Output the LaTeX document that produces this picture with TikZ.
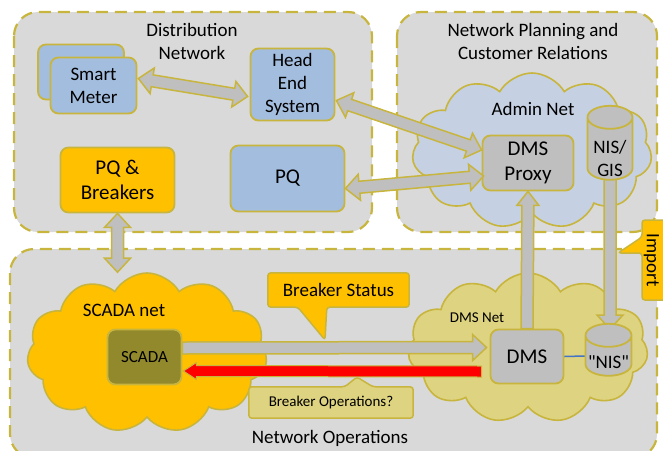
\documentclass[tikz,border=0pt]{standalone}
\usepackage{fontspec}
\setmainfont{Carlito}
\newfontfamily\plainquote{Carlito}[Ligatures=TeXOff]
\usetikzlibrary{calc,shapes.symbols,shapes.geometric}
\definecolor{olv}{RGB}{200,181,62}
\definecolor{pnl}{RGB}{217,217,217}
\definecolor{blu}{RGB}{163,189,222}
\definecolor{cblu}{RGB}{197,208,226}
\definecolor{orng}{RGB}{255,192,0}
\definecolor{khk}{RGB}{222,211,128}
\definecolor{scol}{RGB}{146,137,44}
\definecolor{gry}{RGB}{191,191,191}
\definecolor{lnblue}{RGB}{68,114,196}
\def\baSW{6pt}
\def\baHW{13pt}
\def\baHL{14pt}
\newcommand\BlockArrowOne[3][]{%
  \coordinate (baS) at (#2);
  \coordinate (baE) at (#3);
  \coordinate (baH) at ($(baE)!\baHL!(baS)$);
  \draw[blockarrow,#1] ($(baS)!\baSW!90:(baE)$) -- ($(baH)!\baSW!90:(baE)$) -- ($(baH)!\baHW!90:(baE)$) -- (baE) -- ($(baH)!\baHW!-90:(baE)$) -- ($(baH)!\baSW!-90:(baE)$) -- ($(baS)!\baSW!-90:(baE)$) -- cycle;
}
\newcommand\BlockArrowTwo[3][]{%
  \coordinate (baS) at (#2);
  \coordinate (baE) at (#3);
  \coordinate (baHa) at ($(baS)!\baHL!(baE)$);
  \coordinate (baHb) at ($(baE)!\baHL!(baS)$);
  \draw[blockarrow,#1] (baS) -- ($(baHa)!\baHW!90:(baE)$) -- ($(baHa)!\baSW!90:(baE)$) -- ($(baHb)!\baSW!90:(baE)$) -- ($(baHb)!\baHW!90:(baE)$) -- (baE) -- ($(baHb)!\baHW!-90:(baE)$) -- ($(baHb)!\baSW!-90:(baE)$) -- ($(baHa)!\baSW!-90:(baE)$) -- ($(baHa)!\baHW!-90:(baE)$) -- cycle;
}
\begin{document}
\begin{tikzpicture}[x=1pt,y=-1pt,
  panel/.style={draw=olv, fill=pnl, line width=2.2pt, dash pattern=on 12pt off 7pt, rounded corners=24pt},
  box/.style={draw=olv, line width=1.8pt, rounded corners=8pt, align=center, inner sep=0pt},
  blockarrow/.style={draw=olv, fill=gry, line width=1.5pt, line join=miter},
  f19/.style={font=\fontsize{19}{23}\selectfont},
  f21/.style={font=\fontsize{21}{25}\selectfont},
  f17/.style={font=\fontsize{17}{20}\selectfont},
  f15/.style={font=\fontsize{15}{18}\selectfont},
  cloudy/.style={cloud, cloud puffs=11, cloud puff arc=120, draw=olv, line width=1.6pt, inner sep=0pt},
  db/.style={cylinder, shape border rotate=90, aspect=0.72, text width=32pt, draw=olv, fill=gry, line width=1.8pt, inner sep=0pt},
  calloutbox/.style={draw=olv, line width=1.5pt, rounded corners=3pt},
]
\useasboundingbox (0,0) rectangle (663,450);
% panels
\draw[panel] (14,12) rectangle (372,232);
\draw[panel] (397,12) rectangle (657,232);
\draw[panel] (10,249) rectangle (657,458);
\node[f19, align=center] (distlbl) at (192,41) {Distribution\\Network};
\node[f19, align=center] (planlbl) at (533,41) {Network Planning and\\Customer Relations};
\node[f19, anchor=base] (opslbl) at (330,443) {Network Operations};
% clouds
\node[cloudy, fill=cblu, minimum width=240pt, minimum height=156pt] (admin) at (532,151) {};
\node[f19, anchor=base] (adminlbl) at (533,115) {Admin Net};
\node[cloudy, fill=orng, minimum width=240pt, minimum height=160pt] (scadanet) at (147,353) {};
\node[f19, anchor=base] (scadanetlbl) at (124,316) {SCADA net};
\node[cloudy, fill=khk, minimum width=240pt, minimum height=150pt] (dmsnet) at (528,348) {};
\node[f15, anchor=base] (dmsnetlbl) at (477,322) {DMS Net};
% boxes
\node[box, fill=blu, minimum width=86pt, minimum height=55pt] (smb) at (81,72) {};
\node[box, fill=blu, minimum width=86pt, minimum height=56pt, f19] (smf) at (93.5,85.5) {Smart\\Meter};
\node[box, fill=blu, minimum width=84pt, minimum height=72pt, f19] (he) at (292.5,84.5) {Head\\End\\System};
\node[box, fill=orng, minimum width=114pt, minimum height=65pt, f21] (pqb) at (117.5,180) {PQ \&\\Breakers};
\node[box, fill=blu, minimum width=114pt, minimum height=66pt, f21] (pq) at (287.5,178.5) {PQ};
\node[box, fill=gry, minimum width=91pt, minimum height=55pt, f21] (proxy) at (528,163) {DMS\\Proxy};
\node[box, fill=scol, minimum width=74pt, minimum height=55pt, f17] (scada) at (144.5,357) {SCADA};
\node[box, fill=gry, minimum width=73pt, minimum height=54pt, f21] (dms) at (527,356.5) {DMS};
% NIS arrow behind cylinders
\coordinate (nisgisc) at (610,160);
\BlockArrowOne{nisgisc}{610,329}
\node[db, minimum width=45pt, minimum height=74pt] (nisgis) at (610,149) {};
\node[f19, align=center] (nisgistxt) at (610,158) {NIS/\\GIS};
\node[db, minimum width=46pt, minimum height=52pt] (nis) at (608.5,356) {};
\node[f19] (nistxt) at (608.5,362) {{\plainquote "NIS"}};
% arrows
\BlockArrowTwo{$(smf.east)+(1,-7)$}{$(he.west)+(-2,12)$}
\BlockArrowTwo{$(he.east)+(1,16)$}{$(proxy.west)+(0,-13)$}
\BlockArrowTwo{$(pq.east)+(0,10)$}{$(proxy.west)+(2,13)$}
\BlockArrowTwo{pqb.south}{$(pqb.south |- scadanet.north)$}
{\def\baHW{11pt}\BlockArrowOne{dms.north}{proxy.south}}
\BlockArrowOne{$(scada.east)+(0,-9)$}{$(dms.west)+(-3,-9)$}
{\def\baSW{5.5pt}\def\baHW{8.5pt}\def\baHL{13pt}\BlockArrowOne[fill=red, line width=1pt]{$(dms.west)+(-8,15)$}{$(scada.east)+(1,14)$}}
\draw[lnblue, line width=1.5pt] (dms.east) -- (nis.west);
% callouts
\node[f19, minimum width=141pt, minimum height=34pt, inner sep=0pt] (bs) at (338.5,290) {};
\draw[calloutbox, fill=orng] (bs.north west) -- (bs.north east) -- (bs.south east) -- ($(bs.south west)+(59,0)$) -- (325,340) -- ($(bs.south west)+(30,0)$) -- (bs.south west) -- cycle;
\node[f19] at (bs) {Breaker Status};
\node[minimum width=164pt, minimum height=31pt, inner sep=0pt] (bo) at (331,402.5) {};
\draw[calloutbox, fill=khk] (bo.north west) -- ($(bo.north west)+(96,0)$) -- (357,377) -- ($(bo.north west)+(124,0)$) -- (bo.north east) -- (bo.south east) -- (bo.south west) -- cycle;
\node[f15] at (bo) {Breaker Operations?};
\draw[calloutbox, fill=orng] (642,220) -- (672,220) -- (672,300) -- (642,300) -- (642,253) -- (618,253) -- (642,237) -- cycle;
\node[f19, rotate=-90] (imp) at (651.5,260) {Import};
\end{tikzpicture}
\end{document}
